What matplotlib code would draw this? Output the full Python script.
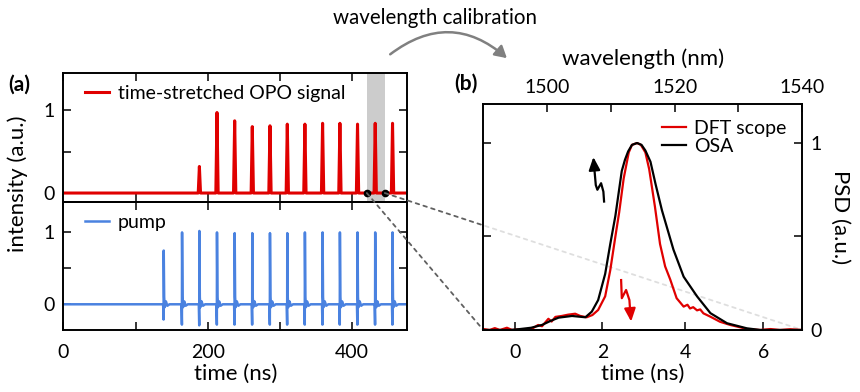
import numpy as np
import matplotlib
matplotlib.use("Agg")
import matplotlib.pyplot as plt
from matplotlib.patches import ConnectionPatch, FancyArrowPatch

plt.rcParams['font.family'] = ['Lato', 'DejaVu Sans']
plt.rcParams['font.size'] = 14
plt.rcParams['axes.labelsize'] = 16

# --- panel (a): pulse trains, time in ns ---
sig_times = [188.3, 212.7, 237.2, 261.6, 286.1, 310.1, 334.5, 359.0, 383.0, 407.4, 431.9, 455.9]
sig_heights = [0.32, 0.97, 0.87, 0.80, 0.81, 0.83, 0.83, 0.84, 0.84, 0.83, 0.84, 0.84]

pump_times = [138.9, 164.3, 188.3, 212.7, 237.2, 261.6, 286.1, 310.1, 334.5, 359.0, 383.0, 407.4, 431.9, 455.9]
pump_heights = [0.74, 0.99, 1.01, 0.99, 0.98, 0.98, 0.98, 0.98, 0.99, 0.99, 0.99, 0.99, 0.99, 0.99]
pump_dips = [-0.21, -0.28, -0.29, -0.28, -0.28, -0.28, -0.28, -0.28, -0.28, -0.28, -0.28, -0.28, -0.28, -0.28]

t_start, t_end = 0, 476
window = (420.3, 445.2)

# --- panel (b): spectra on the wavelength scale (nm) ---
osa_wl = [1490.0, 1494.2, 1495.5, 1497.5, 1499.2, 1500.5, 1501.8, 1503.9, 1506.0, 1507.0, 1508.0,
          1509.1, 1509.9, 1510.7, 1511.7, 1512.2, 1512.7, 1513.3, 1514.1, 1514.8, 1515.4, 1516.2,
          1517.0, 1518.0, 1519.8, 1521.4, 1523.5, 1525.6, 1528.2, 1531.3, 1533.4, 1540.0]
osa_psd = [0.0, 0.0, 0.004, 0.012, 0.027, 0.048, 0.066, 0.075, 0.068, 0.098, 0.16,
           0.30, 0.46, 0.61, 0.85, 0.91, 0.955, 0.99, 1.0, 0.99, 0.96, 0.90,
           0.78, 0.64, 0.43, 0.285, 0.18, 0.09, 0.036, 0.009, 0.0, 0.0]

dft_wl = [1490.0, 1491.0, 1491.8, 1492.6, 1493.7, 1494.5, 1495.8, 1497.3, 1498.6, 1499.2, 1499.7,
          1500.2, 1500.7, 1501.3, 1502.3, 1503.3, 1504.4, 1505.2, 1506.2, 1507.1, 1508.0,
          1509.1, 1509.9, 1510.7, 1511.3, 1512.0, 1512.8, 1513.3, 1514.1, 1514.7, 1515.4,
          1516.0, 1516.9, 1517.7, 1518.5, 1519.3, 1520.3, 1521.4, 1522.0, 1522.4, 1522.9,
          1523.5, 1524.0, 1524.5, 1525.6, 1527.1, 1528.7, 1530.3, 1531.3, 1533.4, 1535.0,
          1536.5, 1538.1, 1540.0]
dft_psd = [0.005, 0.0, 0.01, 0.0, 0.012, 0.0, 0.004, 0.0, 0.027, 0.02, 0.04,
           0.06, 0.045, 0.07, 0.075, 0.082, 0.087, 0.075, 0.068, 0.08, 0.107,
           0.18, 0.32, 0.50, 0.63, 0.81, 0.95, 0.99, 1.0, 0.99, 0.95,
           0.86, 0.66, 0.46, 0.34, 0.27, 0.17, 0.125, 0.135, 0.115, 0.122,
           0.105, 0.11, 0.089, 0.071, 0.044, 0.027, 0.014, 0.005, 0.0, 0.005,
           0.0, 0.004, 0.0]

# dispersion calibration: wavelength (nm) = a + b t + c t^2, t in ns
cal_a, cal_b, cal_c = 1494.93, 7.06, -0.094


def t_to_wl(t):
    t = np.asarray(t, dtype=float)
    return cal_a + cal_b * t + cal_c * t ** 2


def wl_to_t(wl):
    wl = np.asarray(wl, dtype=float)
    disc = np.clip(cal_b ** 2 + 4 * cal_c * (wl - cal_a), 0, None)
    return (-cal_b + np.sqrt(disc)) / (2 * cal_c)


def pulse_trace(times, heights, dips=None):
    # flat baseline with a narrow spike at each pulse
    tt, yy = [t_start], [0.0]
    for i, (t, h) in enumerate(zip(times, heights)):
        if dips is None:
            tt += [t - 1.6, t, t + 1.6]
            yy += [0.0, h, 0.0]
        else:
            tt += [t - 0.8, t - 0.2, t, t + 0.6, t + 1.4, t + 3.0, t + 5.0, t + 8.0]
            yy += [0.0, dips[i], h, 0.1, -0.04, 0.04, -0.02, 0.0]
    tt.append(t_end)
    yy.append(0.0)
    return tt, yy


red = '#e00000'
blue = '#4a82e0'

fig = plt.figure(figsize=(8.6, 3.92), dpi=100)

ax1 = fig.add_axes([0.0738, 0.4847, 0.3995, 0.3291])
ax2 = fig.add_axes([0.0738, 0.1582, 0.3995, 0.3265])
axb = fig.add_axes([0.5620, 0.1582, 0.3709, 0.5757])

for ax in (ax1, ax2):
    ax.set_facecolor('none')
    ax.set_zorder(0)
    ax.set_xlim(t_start, t_end)
    ax.set_xticks([0, 100, 200, 300, 400])
    ax.set_yticks([0, 0.5, 1])
    ax.set_yticklabels(['0', '', '1'])
    ax.tick_params(direction='in', top=True, right=True, length=6, width=1.1, pad=6)
    for s in ax.spines.values():
        s.set_linewidth(1.4)

ax1.set_ylim(-0.108, 1.446)
ax1.tick_params(labelbottom=False)
ax1.axvspan(*window, color='#cccccc', lw=0, zorder=0)
tt, yy = pulse_trace(sig_times, sig_heights)
ax1.plot(tt, yy, color=red, lw=2.2, label='time-stretched OPO signal')
ax1.plot(window, [0, 0], 'o', color='black', mec='black', ms=4.5, zorder=4)
ax1.legend(loc='upper left', frameon=False, fontsize=14, handlelength=1.2,
           handletextpad=0.45, borderaxespad=0.2, bbox_to_anchor=(0.03, 1.0))

ax2.set_ylim(-0.354, 1.409)
tt, yy = pulse_trace(pump_times, pump_heights, pump_dips)
ax2.plot(tt, yy, color=blue, lw=1.8, label='pump')
ax2.set_xticklabels(['0', '', '200', '', '400'])
ax2.tick_params(axis='x', pad=10)
ax2.set_xlabel('time (ns)', labelpad=2)
ax2.legend(loc='upper left', frameon=False, fontsize=14, handlelength=1.2,
           handletextpad=0.45, borderaxespad=0.2, bbox_to_anchor=(0.03, 1.0))

fig.text(0.021, 0.53, 'intensity (a.u.)', rotation=90, ha='center', va='center', fontsize=16)

# panel (b)
axb.set_zorder(2)
axb.patch.set_facecolor((1, 1, 1, 0.8))
axb.set_xlim(1490, 1540)
axb.set_ylim(0, 1.207)
axb.plot(dft_wl, dft_psd, color=red, lw=1.6, label='DFT scope')
axb.plot(osa_wl, osa_psd, color='black', lw=1.6, label='OSA')
axb.xaxis.tick_top()
axb.xaxis.set_label_position('top')
axb.set_xticks([1500, 1510, 1520, 1530, 1540])
axb.set_xticklabels(['1500', '', '1520', '', '1540'])
axb.set_xlabel('wavelength (nm)', labelpad=10)
axb.set_yticks([0, 0.5, 1])
axb.set_yticklabels(['0', '', '1'])
axb.tick_params(axis='y', direction='in', left=True, right=True, labelleft=False,
                labelright=True, length=6, width=1.1, pad=6)
axb.tick_params(axis='x', direction='in', length=6, width=1.1, pad=6)
axb.yaxis.set_label_position('right')
axb.set_ylabel('PSD (a.u.)', rotation=270, labelpad=20)
for s in axb.spines.values():
    s.set_linewidth(1.4)

sec = axb.secondary_xaxis('bottom', functions=(wl_to_t, t_to_wl))
sec.set_xticks([0, 2, 4, 6])
sec.tick_params(direction='in', length=6, width=1.1, pad=10)
sec.set_xlabel('time (ns)', labelpad=2)
sec.spines['bottom'].set_linewidth(1.4)

axb.legend(loc='upper right', frameon=False, fontsize=14, handlelength=1.2,
           handletextpad=0.45, labelspacing=0.05, borderaxespad=0.4,
           bbox_to_anchor=(1.0, 1.0))

# squiggle arrows: black belongs to wavelength, red to time
up_x = [1508.93, 1508.82, 1508.46, 1507.88, 1507.63, 1507.41]
up_y = [0.687, 0.74, 0.785, 0.75, 0.775, 0.86]
axb.plot(up_x, up_y, color='black', lw=1.6)
axb.annotate('', xy=(1507.25, 0.925), xytext=(up_x[-1], up_y[-1]),
             arrowprops=dict(arrowstyle='-|>,head_length=0.55,head_width=0.24',
                             color='black', lw=1.6, shrinkA=0, shrinkB=0))
dn_x = [1511.6, 1511.71, 1512.38, 1512.9, 1513.0]
dn_y = [0.267, 0.17, 0.214, 0.16, 0.11]
axb.plot(dn_x, dn_y, color=red, lw=1.6)
axb.annotate('', xy=(1513.17, 0.045), xytext=(dn_x[-1], dn_y[-1]),
             arrowprops=dict(arrowstyle='-|>,head_length=0.55,head_width=0.24',
                             color=red, lw=1.6, shrinkA=0, shrinkB=0))

# zoom lines from the highlighted window to panel (b)
for xa, xb in ((window[0], 1490), (window[1], 1540)):
    con = ConnectionPatch(xyA=(xa, 0), coordsA=ax1.transData,
                          xyB=(xb, 0), coordsB=axb.transData,
                          linestyle=(0, (2, 2.5)), color='#606060', lw=1.3)
    con.set_zorder(1)
    fig.add_artist(con)

fig.text(0.022, 0.783, '(a)', fontsize=15, fontweight='bold', ha='center', va='center')
fig.text(0.542, 0.786, '(b)', fontsize=15, fontweight='bold', ha='center', va='center')

fig.text(0.506, 0.954, 'wavelength calibration', fontsize=14.8, ha='center', va='center')
arc = FancyArrowPatch((388 / 860, 1 - 56 / 392), (509 / 860, 1 - 60 / 392),
                      transform=fig.transFigure, connectionstyle='arc3,rad=-0.42',
                      arrowstyle='-|>,head_length=7,head_width=4', color='#808080', lw=1.8)
fig.add_artist(arc)

fig.savefig('out.png', dpi=100)
